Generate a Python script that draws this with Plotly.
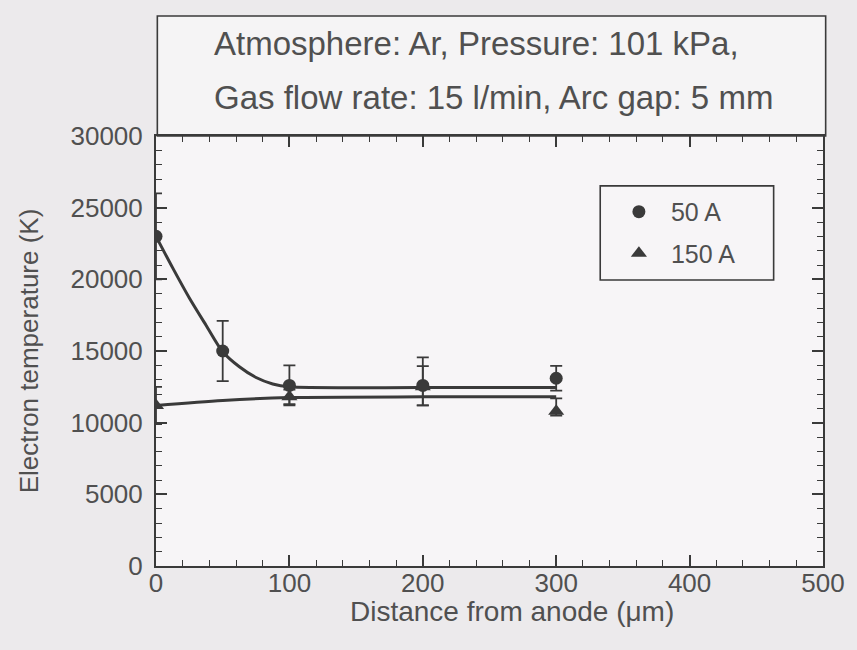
import plotly.graph_objects as go

# ---- data ----
dist_50 = [0, 50, 100, 200, 300]
temp_50 = [23000, 15000, 12600, 12600, 13100]
err_50_plus = [3000, 2100, 1400, 1950, 860]
err_50_minus = [3000, 2100, 1400, 1400, 860]

dist_150 = [0, 100, 200, 300]
temp_150 = [11200, 11800, 12500, 10800]
err_150_plus = [1300, 500, 1450, 900]
err_150_minus = [1300, 500, 1300, 300]

fit_x_50 = [0, 12.5, 25, 37.5, 50, 62.5, 75, 87.5, 100, 200, 300]
fit_y_50 = [23000, 20800, 18700, 16800, 14950, 13900, 13150, 12700, 12500, 12450, 12450]
fit_x_150 = [0, 50, 100, 200, 300]
fit_y_150 = [11200, 11550, 11750, 11800, 11800]

x_ticks = [0, 100, 200, 300, 400, 500]
y_ticks = [0, 5000, 10000, 15000, 20000, 25000, 30000]

box_lines = ["Atmosphere: Ar, Pressure: 101 kPa,",
             "Gas flow rate: 15 l/min, Arc gap: 5 mm"]
x_title = "Distance from anode (μm)"
y_title = "Electron temperature (K)"

INK = "#3a3a3a"
TXT = "#505050"
FONT = "Liberation Sans, Arial, Helvetica, sans-serif"

fig = go.Figure()

fig.add_trace(go.Scatter(x=fit_x_50, y=fit_y_50, mode="lines", line=dict(color=INK, width=3, shape="spline", smoothing=0.8),
                         showlegend=False, hoverinfo="skip"))
fig.add_trace(go.Scatter(x=fit_x_150, y=fit_y_150, mode="lines", line=dict(color=INK, width=3, shape="spline", smoothing=0.8),
                         showlegend=False, hoverinfo="skip"))

fig.add_trace(go.Scatter(
    x=dist_50, y=temp_50, mode="markers", name="50 A", legendgroup="a",
    marker=dict(symbol="circle", size=13, color=INK),
    error_y=dict(type="data", symmetric=False, array=err_50_plus, arrayminus=err_50_minus,
                 color=INK, thickness=1.8, width=6)))
fig.add_trace(go.Scatter(
    x=dist_150, y=temp_150, mode="markers", name="150 A", legendgroup="b",
    marker=dict(symbol="triangle-up", size=14, color=INK),
    error_y=dict(type="data", symmetric=False, array=err_150_plus, arrayminus=err_150_minus,
                 color=INK, thickness=1.8, width=6)))

axis_common = dict(showline=True, linecolor=INK, linewidth=2, mirror="ticks", ticks="inside",
                   tickcolor=INK, tickwidth=1.6, ticklen=11, showgrid=False, zeroline=False,
                   tickfont=dict(family=FONT, size=26, color=TXT))

fig.update_xaxes(range=[0, 500], tickvals=x_ticks, ticktext=[str(v) for v in x_ticks], ticklabelstandoff=-7,
                 minor=dict(dtick=20, ticks="inside", ticklen=6, tickcolor=INK, tickwidth=1.4),
                 **axis_common)
fig.update_yaxes(range=[0, 30000], tickvals=y_ticks, ticktext=[str(v) for v in y_ticks], ticklabelstandoff=6,
                 minor=dict(dtick=1000, ticks="inside", ticklen=6, tickcolor=INK, tickwidth=1.4),
                 title=dict(text=y_title, font=dict(family=FONT, size=26, color=TXT), standoff=24),
                 **axis_common)

# x-axis title (offset to the right as in the original)
fig.add_annotation(xref="paper", yref="paper", x=0.533, y=-0.106, text=x_title, showarrow=False,
                   xanchor="center", yanchor="middle", font=dict(family=FONT, size=28, color=TXT))

# title box above the plot
fig.add_shape(type="rect", xref="paper", yref="paper", x0=0.002, x1=1.004, y0=1.0, y1=1.279,
              line=dict(color=INK, width=1.6), fillcolor="#f5f4f5", layer="below")
for txt, yv in zip(box_lines, [1.215, 1.09]):
    fig.add_annotation(xref="paper", yref="paper", x=0.0836, y=yv, text=txt, showarrow=False,
                       xanchor="left", yanchor="middle", font=dict(family=FONT, size=33, color=TXT))

# legend frame
fig.add_shape(type="rect", xref="paper", yref="paper", x0=0.666, x1=0.926, y0=0.665, y1=0.884,
              line=dict(color=INK, width=1.6), fillcolor="rgba(0,0,0,0)")

fig.update_layout(
    width=857, height=650,
    margin=dict(l=156, r=31, t=136, b=84),
    paper_bgcolor="#eceaec", plot_bgcolor="#f7f5f7",
    legend=dict(x=0.676, y=0.877, xanchor="left", yanchor="top", bgcolor="rgba(0,0,0,0)",
                borderwidth=0, font=dict(family=FONT, size=25, color=TXT), itemwidth=54,
                tracegroupgap=6, traceorder="grouped", itemsizing="trace"),
    showlegend=True,
)

fig.write_html("out.html")
